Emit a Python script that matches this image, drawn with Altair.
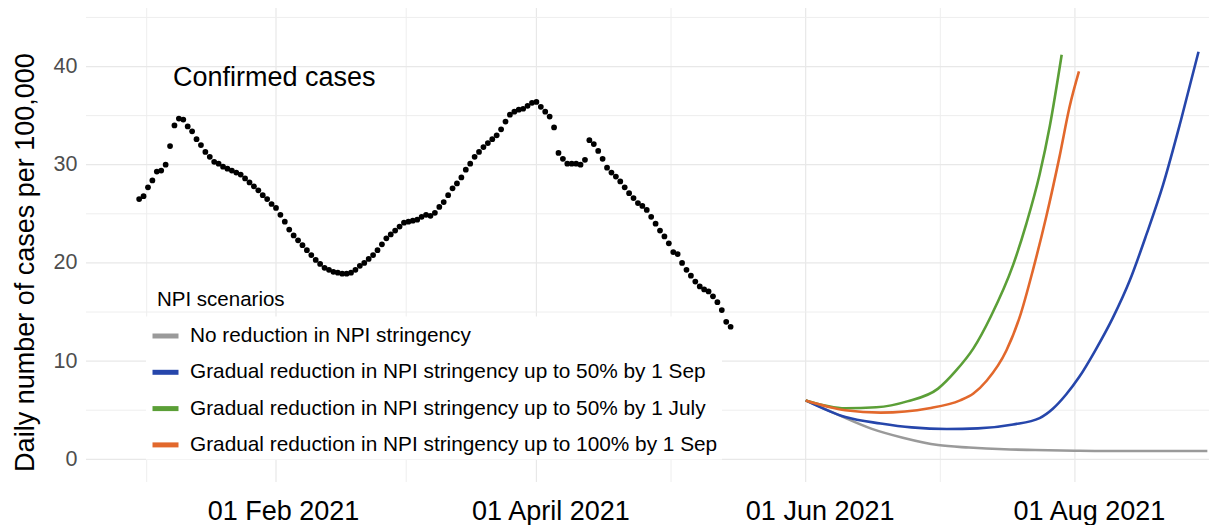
import altair as alt
import pandas as pd

FONT = "Liberation Sans"

# ---------------- data ----------------
case_start = "2021-01-01"
case_values = [
    # January
    26.5, 26.8, 27.7, 28.4, 29.3, 29.4, 30.0, 31.9, 34.0, 34.7,
    34.6, 33.9, 33.4, 32.6, 32.0, 31.3, 30.8, 30.3, 30.1, 29.8,
    29.6, 29.4, 29.2, 29.0, 28.6, 28.2, 27.8, 27.4, 26.9, 26.5, 26.0,
    # February
    25.6, 24.9, 24.2, 23.4, 22.8, 22.3, 21.8, 21.3, 20.8, 20.3,
    19.9, 19.5, 19.3, 19.1, 19.0, 18.9, 18.9, 19.0, 19.3, 19.7,
    20.0, 20.4, 20.8, 21.3, 21.9, 22.5, 22.9, 23.3,
    # March
    23.7, 24.1, 24.2, 24.3, 24.4, 24.7, 24.9, 24.8, 25.1, 25.7,
    26.2, 26.9, 27.6, 28.1, 28.7, 29.5, 30.1, 30.8, 31.3, 31.8,
    32.2, 32.6, 33.0, 33.6, 34.4, 35.1, 35.4, 35.6, 35.7, 36.0, 36.3,
    # April
    36.4, 35.9, 35.4, 34.9, 33.8, 31.2, 30.6, 30.1, 30.1, 30.1,
    30.0, 30.5, 32.5, 32.1, 31.4, 30.6, 29.7, 29.2, 28.8, 28.3,
    27.7, 27.1, 26.6, 26.1, 25.8, 25.4, 24.7, 24.0, 23.3, 22.7,
    # May
    22.0, 21.1, 20.9, 20.0, 19.3, 18.7, 18.1, 17.6, 17.3, 17.1,
    16.6, 16.0, 15.2, 14.0, 13.5,
]

scenario_names = [
    "No reduction in NPI stringency",
    "Gradual reduction in NPI stringency up to 50% by 1 Sep",
    "Gradual reduction in NPI stringency up to 50% by 1 July",
    "Gradual reduction in NPI stringency up to 100% by 1 Sep",
]
scenario_colors = ["#9a9a9a", "#2646ab", "#5b9f37", "#e2682c"]

none_dates = ["2021-06-01", "2021-06-08", "2021-06-16", "2021-06-23", "2021-07-01",
              "2021-07-08", "2021-07-16", "2021-07-23", "2021-08-01", "2021-08-08",
              "2021-08-31"]
none_values = [6.0, 4.6, 3.1, 2.2, 1.45, 1.2, 1.02, 0.95, 0.88, 0.85, 0.85]

sep50_dates = ["2021-06-01", "2021-06-10", "2021-06-18", "2021-06-25", "2021-07-03",
               "2021-07-10", "2021-07-18", "2021-07-24", "2021-07-27", "2021-07-30",
               "2021-08-02", "2021-08-05T12:00", "2021-08-09T14:00", "2021-08-13T10:00",
               "2021-08-17T05:00", "2021-08-21", "2021-08-25", "2021-08-29"]
sep50_values = [6.0, 4.3, 3.65, 3.25, 3.08, 3.15, 3.55, 4.2, 5.15, 6.6,
                8.4, 11.0, 14.4, 18.2, 22.9, 28.0, 34.5, 41.5]

jul50_dates = ["2021-06-01", "2021-06-10", "2021-06-17", "2021-06-24", "2021-07-01",
               "2021-07-05", "2021-07-09", "2021-07-13", "2021-07-18", "2021-07-21",
               "2021-07-24", "2021-07-26T08:00", "2021-07-29"]
jul50_values = [6.0, 5.2, 5.3, 5.9, 7.2, 9.0, 11.3, 14.6, 19.8, 24.0, 29.0, 34.0, 41.2]

sep100_dates = ["2021-06-01", "2021-06-10", "2021-06-18", "2021-06-29", "2021-07-06",
                "2021-07-09", "2021-07-12", "2021-07-16T12:00", "2021-07-19T12:00",
                "2021-07-22T12:00", "2021-07-25T12:00", "2021-07-28T12:00",
                "2021-07-30T19:00", "2021-08-01T22:00"]
sep100_values = [6.0, 5.0, 4.75, 5.2, 6.0, 6.7, 8.0, 11.1, 14.5, 19.3, 24.7, 30.8, 35.9, 39.5]

x_tick_dates = ["2021-02-01", "2021-04-01", "2021-06-01", "2021-08-01"]
x_tick_labels = ["01 Feb 2021", "01 April 2021", "01 Jun 2021", "01 Aug 2021"]
x_minor_dates = ["2021-01-02T17:00", "2021-03-02T12:00", "2021-05-01T12:00",
                 "2021-07-01T12:00", "2021-08-31T12:00"]
y_major = [0, 10, 20, 30, 40]
y_minor = [5, 15, 25, 35, 45]
x_domain = ["2020-12-19T23:00", "2021-08-31T09:00"]
y_domain = [-2.31, 45.96]

annotation_text = ["Confirmed cases", "NPI scenarios"]
annotation_date = ["2021-01-08T16:00", "2021-01-05T01:00"]
annotation_value = [38.0, 15.6]
annotation_size = [27, 20.5]

y_title = "Daily number of cases per 100,000"


# ---------------- helpers ----------------
def iso(s):
    return pd.Timestamp(s).strftime("%Y-%m-%dT%H:%M:%SZ")


def to_ms(s):
    return int(pd.Timestamp(s).tz_localize("UTC").timestamp() * 1000)


case_dates = pd.date_range(case_start, periods=len(case_values), freq="D")
cases_df = pd.DataFrame({
    "date": [d.strftime("%Y-%m-%dT%H:%M:%SZ") for d in case_dates],
    "value": case_values,
})

rows = []
for name, ds, vs in zip(scenario_names,
                        [none_dates, sep50_dates, jul50_dates, sep100_dates],
                        [none_values, sep50_values, jul50_values, sep100_values]):
    for d, v in zip(ds, vs):
        rows.append({"date": iso(d), "value": v, "scenario": name})
lines_df = pd.DataFrame(rows)

vmajor_df = pd.DataFrame({"date": [iso(d) for d in x_tick_dates]})
vminor_df = pd.DataFrame({"date": [iso(d) for d in x_minor_dates]})
hmajor_df = pd.DataFrame({"value": y_major})
hminor_df = pd.DataFrame({"value": y_minor})
ann_df = pd.DataFrame({"date": [iso(d) for d in annotation_date],
                       "value": annotation_value, "label": annotation_text,
                       "size": annotation_size})

tick_ms = [to_ms(d) for d in x_tick_dates]
label_expr = "''"
for ms, lab in reversed(list(zip(tick_ms, x_tick_labels))):
    label_expr = f"time(datum.value) == {ms} ? '{lab}' : ({label_expr})"

x_scale = alt.Scale(type="utc", domain=[to_ms(d) for d in x_domain], nice=False)
y_scale = alt.Scale(domain=y_domain, nice=False, zero=False)

x_axis = alt.Axis(values=tick_ms, labelExpr=label_expr, labelFontSize=27,
                  labelColor="black", labelPadding=16, labelBaseline="top",
                  labelOffset={"condition": {"test": f"time(datum.value) == {tick_ms[0]}",
                                             "value": 7},
                               "value": 14},
                  ticks=False, domain=False, grid=False, title=None,
                  labelFont=FONT, labelFlush=False, labelOverlap=False)
y_axis = alt.Axis(values=y_major, labelFontSize=21.5, labelColor="#4d4d4d",
                  labelPadding=9, ticks=False, domain=False, grid=False,
                  title=y_title, titleFontSize=27, titleFontWeight="normal",
                  titleColor="black", titleFont=FONT, labelFont=FONT,
                  titleX=-53, titleY=254, titleAngle=270, titleAlign="center",
                  titleBaseline="alphabetic")

x_enc = alt.X("date:T", scale=x_scale, axis=x_axis)
y_enc = alt.Y("value:Q", scale=y_scale, axis=y_axis)

vmajor = alt.Chart(vmajor_df).mark_rule(color="#e8e8e8", strokeWidth=1.2).encode(x=x_enc)
vminor = alt.Chart(vminor_df).mark_rule(color="#eeeeee", strokeWidth=1.0).encode(x=x_enc)
hmajor = alt.Chart(hmajor_df).mark_rule(color="#e8e8e8", strokeWidth=1.2).encode(y=y_enc)
hminor = alt.Chart(hminor_df).mark_rule(color="#eeeeee", strokeWidth=1.0).encode(y=y_enc)

legend = alt.Legend(
    title=None, orient="none", legendX=60, legendY=308.5,
    labelFontSize=20.8, labelColor="black", labelFont=FONT, labelLimit=1000,
    symbolType="stroke", symbolStrokeWidth=5, symbolSize=676,
    rowPadding=10.3, padding=4, labelOffset=9,
    fillColor="white",
)

lines = alt.Chart(lines_df).mark_line(strokeWidth=2.6, interpolate="monotone").encode(
    x=x_enc, y=y_enc,
    color=alt.Color("scenario:N", scale=alt.Scale(domain=scenario_names, range=scenario_colors),
                    legend=legend, sort=scenario_names),
)

points = alt.Chart(cases_df).mark_circle(size=33, color="black", opacity=1).encode(x=x_enc, y=y_enc)

text = alt.Chart(ann_df).mark_text(align="left", baseline="alphabetic",
                                   color="black", font=FONT).encode(
    x=x_enc, y=y_enc, text="label:N",
    size=alt.Size("size:Q", scale=None, legend=None))

chart = alt.layer(vminor, vmajor, hminor, hmajor, lines, points, text).properties(
    width=1123, height=474,
    padding={"left": 78, "top": 0, "right": 0, "bottom": 43},
    autosize=alt.AutoSizeParams(type="none"),
).configure(font=FONT).configure_view(stroke=None)

chart.save("out.html", embed_options={"renderer": "svg", "actions": False})
